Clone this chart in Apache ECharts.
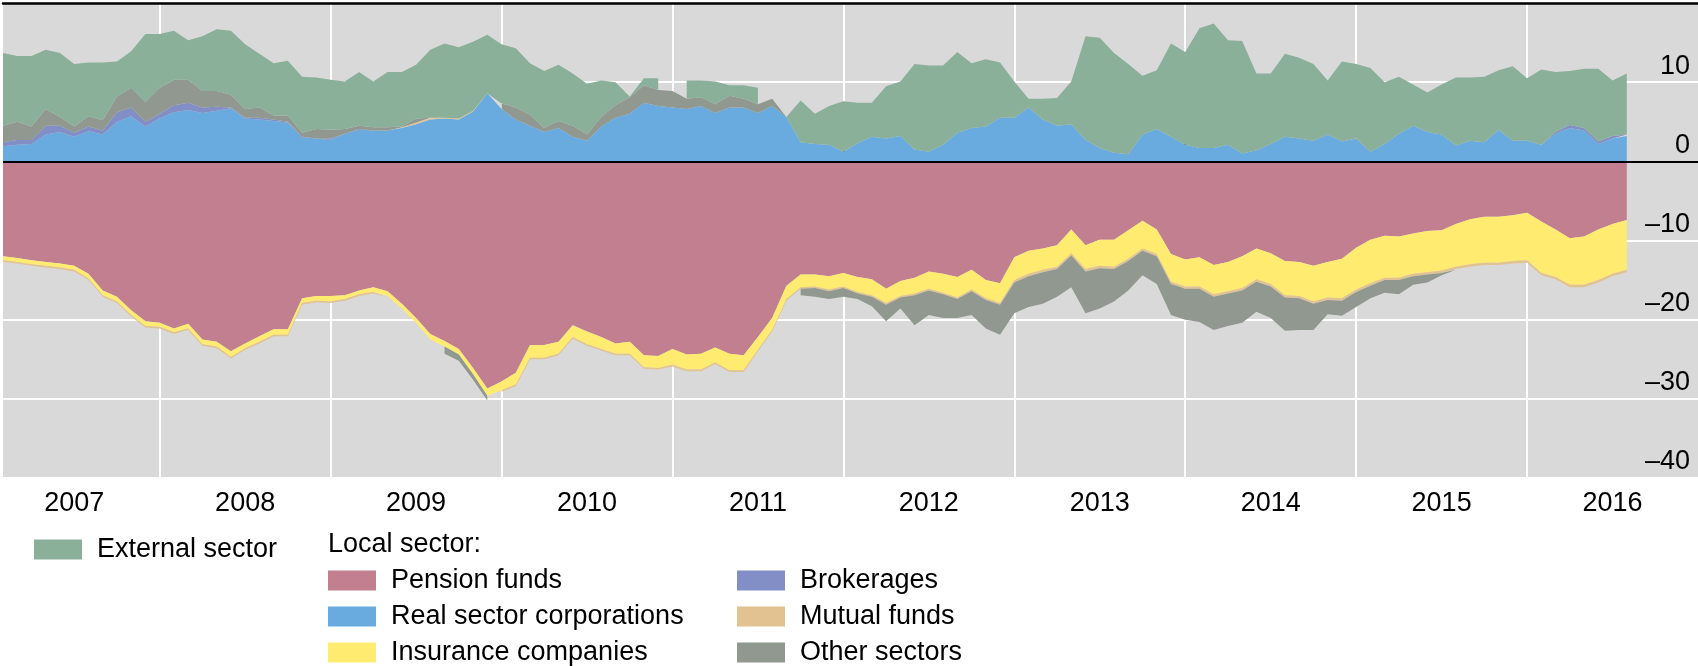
<!DOCTYPE html>
<html>
<head>
<meta charset="utf-8">
<script src="https://cdn.jsdelivr.net/npm/echarts@6/dist/echarts.min.js"></script>
<style>
  html, body { margin: 0; padding: 0; background: #fff; }
  #chart { width: 1698px; height: 666px; }
</style>
</head>
<body>
<div id="chart"></div>
<script>
// monthly axis, Jan 2007 .. Dec 2016 (data runs to Jul 2016)
const years = [2007, 2008, 2009, 2010, 2011, 2012, 2013, 2014, 2015, 2016];
const monthNames = ['Jan', 'Feb', 'Mar', 'Apr', 'May', 'Jun', 'Jul', 'Aug', 'Sep', 'Oct', 'Nov', 'Dec'];
const categories = [];
years.forEach(y => monthNames.forEach(m => categories.push(m + ' ' + y)));

const yTicks = [-40, -30, -20, -10, 0, 10, 20];

// values, % (one per month)
const realSector = [
  1.9, 2.1, 2.2, 3.4, 3.7, 3.1, 3.8, 3.4, 5.0, 5.7,
  4.4, 5.4, 6.2, 6.5, 6.1, 6.4, 6.7, 5.4, 5.3, 5.1,
  4.9, 3.0, 2.9, 2.7, 3.5, 4.0, 3.9, 3.9, 4.2, 4.7,
  5.3, 5.4, 5.3, 6.3, 8.6, 6.6, 5.3, 4.5, 3.7, 4.2,
  3.1, 2.6, 4.4, 5.5, 6.0, 7.4, 7.0, 6.8, 6.6, 7.0,
  6.1, 6.8, 6.8, 6.1, 7.0, 5.6, 2.4, 2.2, 2.1, 1.2,
  2.3, 3.1, 2.9, 3.2, 1.5, 1.2, 2.1, 3.6, 4.2, 4.4,
  5.5, 5.5, 6.8, 5.3, 4.5, 4.7, 2.7, 1.7, 1.1, 0.9,
  3.4, 4.1, 3.1, 2.1, 1.7, 1.7, 2.1, 1.0, 1.4, 2.2,
  3.1, 2.9, 2.6, 3.4, 2.5, 2.9, 1.2, 2.2, 3.5, 4.5,
  3.7, 3.4, 2.0, 2.6, 2.4, 4.0, 2.6, 2.6, 2.1, 3.5,
  4.2, 3.9, 2.2, 2.9, 3.2
];
const brokerages = [
  0.5, 0.6, 0.5, 1.1, 0.8, 0.5, 0.6, 0.5, 1.2, 1.1,
  0.6, 0.6, 0.9, 0.9, 0.7, 0.5, 0.1, 0.1, 0.2, 0.2,
  0.1, 0.1, 0.0, 0.2, 0.0, 0.1, 0.0, 0.0, 0.0, 0.0,
  0, 0, 0, 0, 0, 0, 0, 0, 0, 0,
  0, 0, 0, 0, 0, 0, 0, 0, 0, 0,
  0, 0, 0, 0, 0, 0, 0, 0, 0, 0,
  0, 0, 0, 0, 0, 0, 0, 0, 0, 0,
  0, 0, 0, 0, 0, 0, 0, 0, 0, 0,
  0, 0, 0, 0, 0, 0, 0, 0, 0, 0,
  0, 0, 0, 0, 0, 0, 0, 0, 0, 0,
  0, 0, 0, 0, 0, 0, 0, 0, 0, 0.2,
  0.4, 0.3, 0.3, 0.3, 0.2
];
const mutualFunds = [
  -0.2, -0.2, -0.2, -0.2, -0.2, -0.2, -0.2, -0.2, -0.2, -0.2,
  -0.2, -0.2, -0.2, -0.2, -0.2, -0.2, -0.2, -0.2, -0.2, -0.2,
  -0.2, -0.2, -0.2, -0.2, -0.2, -0.2, -0.2, -0.2, 0.1, 0.2,
  0.1, 0.1, 0.1, 0.1, 0.0, -0.2, -0.2, -0.2, -0.2, -0.2,
  -0.2, -0.2, -0.2, -0.2, -0.2, -0.2, -0.2, -0.2, -0.2, -0.2,
  -0.2, -0.2, -0.2, -0.2, -0.2, -0.2, -0.2, -0.2, -0.2, -0.2,
  -0.2, -0.2, -0.2, -0.2, -0.2, -0.2, -0.2, -0.2, -0.2, -0.2,
  -0.2, -0.3, -0.3, -0.3, -0.3, -0.3, -0.3, -0.3, -0.3, -0.3,
  -0.3, -0.3, -0.3, -0.3, -0.3, -0.3, -0.3, -0.3, -0.3, -0.3,
  -0.3, -0.3, -0.3, -0.3, -0.3, -0.3, -0.3, -0.3, -0.3, -0.3,
  -0.3, -0.3, -0.3, -0.3, -0.3, -0.3, -0.3, -0.3, -0.3, -0.3,
  -0.3, -0.3, -0.3, -0.3, -0.3
];
const otherSectors = [
  2.1, 2.3, 1.7, 2.1, 1.1, 0.8, 1.3, 1.3, 2.0, 2.5,
  2.5, 3.3, 3.2, 2.9, 2.1, 2.0, 1.6, 1.1, 1.3, 0.5,
  0.8, 0.5, 1.2, 1.1, 0.6, 0.4, 0.4, 0.4, 0.1, 0.5,
  0.1, -0.9, -0.8, -0.7, -0.6, 0.7, 1.5, 1.4, 0.5, 0.9,
  1.4, 0.8, 1.2, 1.6, 2.1, 2.2, 2.0, 2.1, 1.3, 1.1,
  1.1, 1.5, 1.1, 1.1, 0.9, 0.0, -0.8, -1.1, -1.0, -1.1,
  -0.7, -1.2, -2.1, -1.4, -3.8, -3.1, -3.0, -2.4, -3.0, -3.6,
  -3.8, -3.9, -3.9, -4.0, -3.5, -4.0, -5.3, -5.1, -4.1, -3.7,
  -3.1, -3.5, -3.9, -3.9, -4.2, -4.2, -4.1, -4.1, -3.8, -4.0,
  -4.2, -4.0, -3.3, -1.8, -1.9, -1.9, -1.6, -1.6, -1.8, -1.1,
  -1.0, -0.3, -0.1, 0, 0, 0, 0, 0, 0, 0,
  0, 0, 0, 0, 0
];
const externalSector = [
  9.2, 8.3, 8.9, 7.5, 8.1, 7.9, 6.8, 7.3, 4.4, 4.6,
  8.6, 6.8, 6.2, 5.0, 6.9, 7.8, 8.1, 8.2, 6.8, 6.6,
  6.9, 7.1, 6.5, 6.3, 6.0, 6.8, 5.8, 7.0, 6.9, 6.8,
  8.6, 9.4, 9.0, 8.7, 7.4, 7.5, 7.5, 6.5, 7.2, 7.1,
  6.6, 6.4, 4.6, 2.9, 0.1, 0.9, 1.5, -0.3, 2.3, 2.1,
  2.9, 1.3, 1.7, 2.1, -0.3, 0.0, 5.3, 3.8, 4.9, 6.4,
  5.1, 4.3, 6.6, 6.9, 10.8, 10.9, 10.0, 10.2, 8.2, 8.5,
  7.0, 4.6, 1.1, 2.6, 3.5, 5.4, 13.1, 13.9, 12.6, 11.4,
  7.4, 7.4, 11.8, 11.7, 15.1, 15.7, 13.2, 14.2, 9.7, 8.9,
  10.5, 10.2, 9.7, 6.8, 10.1, 9.4, 10.6, 7.8, 7.2, 5.2,
  5.0, 6.3, 8.6, 8.0, 8.3, 7.5, 9.4, 7.9, 9.5, 7.6,
  6.8, 7.5, 9.2, 7.0, 7.7
];
const pensionFunds = [
  -12.0, -12.2, -12.5, -12.7, -12.9, -13.2, -14.2, -16.3, -17.1, -18.8,
  -20.2, -20.4, -21.1, -20.5, -22.5, -22.8, -24.0, -23.0, -22.1, -21.2,
  -21.2, -17.3, -17.0, -17.0, -16.9, -16.3, -15.9, -16.4, -18.0, -19.8,
  -21.8, -22.7, -23.7, -26.1, -28.7, -27.8, -26.7, -23.2, -23.2, -22.8,
  -20.7, -21.5, -22.2, -23.0, -22.8, -24.5, -24.6, -23.7, -24.4, -24.3,
  -23.5, -24.3, -24.5, -22.2, -19.8, -15.7, -14.3, -14.3, -14.5, -14.1,
  -14.6, -14.9, -16.1, -15.1, -14.7, -13.9, -14.2, -14.6, -13.7, -15.0,
  -15.4, -12.1, -11.3, -11.0, -10.6, -8.6, -10.6, -9.9, -9.9, -8.7,
  -7.5, -8.6, -11.7, -12.4, -12.1, -13.1, -12.7, -12.0, -11.0, -11.6,
  -12.6, -12.7, -13.2, -12.7, -12.3, -10.9, -9.9, -9.4, -9.5, -9.1,
  -8.8, -8.7, -7.9, -7.3, -7.0, -7.0, -6.8, -6.5, -7.6, -8.6,
  -9.7, -9.5, -8.6, -7.9, -7.4
];
const insurance = [
  -0.5, -0.5, -0.5, -0.5, -0.5, -0.5, -0.6, -0.6, -0.6, -0.6,
  -0.6, -0.5, -0.5, -0.6, -0.6, -0.6, -0.7, -0.6, -0.7, -0.7,
  -0.7, -0.6, -0.6, -0.7, -0.5, -0.5, -0.6, -0.6, -0.6, -0.6,
  -0.7, -0.7, -0.7, -0.8, -0.9, -1.1, -1.5, -1.6, -1.6, -1.5,
  -1.5, -1.6, -1.5, -1.3, -1.5, -1.5, -1.5, -2.0, -1.9, -2.0,
  -1.9, -2.1, -1.9, -1.6, -1.5, -1.7, -1.6, -1.5, -1.7, -1.7,
  -1.9, -2.0, -1.8, -1.9, -2.0, -2.2, -2.4, -2.6, -2.5, -2.3,
  -2.5, -2.9, -2.9, -2.7, -2.7, -3.0, -3.0, -3.3, -3.4, -3.6,
  -3.5, -3.1, -3.5, -3.4, -3.7, -3.7, -3.7, -4.0, -3.9, -3.9,
  -4.3, -4.3, -4.5, -4.5, -5.0, -5.3, -5.5, -5.3, -5.2, -5.1,
  -5.2, -5.1, -5.4, -5.7, -5.8, -5.8, -5.8, -6.0, -6.5, -6.0,
  -5.9, -6.1, -6.4, -6.3, -6.3
];

const FONT = "'Liberation Sans', Arial, Helvetica, sans-serif";
const C = {
  external: '#8AB09A',
  pension: '#C27F8F',
  real: '#6AABDF',
  insurance: '#FFEB70',
  brokerages: '#828EC6',
  mutual: '#E2C290',
  other: '#909890'
};

// the original draws positive and negative parts as separate areas
const pos = arr => arr.map(v => (v >= 0 ? v : null));
const neg = arr => arr.map(v => (v < 0 ? v : null));

function area(name, data, stack, color) {
  return {
    name, type: 'line', stack, data,
    symbol: 'none', showSymbol: false, connectNulls: false,
    lineStyle: { width: 0 },
    itemStyle: { color },
    areaStyle: { color, opacity: 1 },
    emphasis: { disabled: true },
    silent: true
  };
}

const series = [
  area('Real sector corporations', pos(realSector), 'pos', C.real),
  area('Brokerages', pos(brokerages), 'pos', C.brokerages),
  area('Mutual funds', pos(mutualFunds), 'pos', C.mutual),
  area('Other sectors', pos(otherSectors), 'pos', C.other),
  area('External sector', pos(externalSector), 'pos', C.external),
  area('Pension funds', pensionFunds, 'neg', C.pension),
  area('Insurance companies', insurance, 'neg', C.insurance),
  area('Mutual funds', neg(mutualFunds), 'neg', C.mutual),
  area('Brokerages', neg(brokerages), 'neg', C.brokerages),
  area('Other sectors', neg(otherSectors), 'neg', C.other),
  area('External sector', neg(externalSector), 'neg', C.external)
];
// zero line
series[series.length - 1].markLine = {
  silent: true, symbol: 'none', animation: false, z: 10,
  label: { show: false },
  lineStyle: { color: '#000', width: 2, type: 'solid' },
  data: [{ yAxis: 0 }]
};

const yearEnd = i => i % 12 === 11 && i < categories.length - 1;

// one legend block per entry so the rows sit exactly where the original has them
const legendRows = [
  ['External sector', 34, 536],
  ['Pension funds', 328, 567],
  ['Real sector corporations', 328, 603],
  ['Insurance companies', 328, 639],
  ['Brokerages', 737, 567],
  ['Mutual funds', 737, 603],
  ['Other sectors', 737, 639]
];
const legend = legendRows.map(([name, left, top]) => ({
  data: [name], left, top,
  icon: 'rect', itemWidth: 48, itemHeight: 20, padding: 0,
  selectedMode: false,
  itemStyle: { borderWidth: 0 },
  textStyle: { fontFamily: FONT, fontSize: 27, color: '#000', padding: [0, 0, 0, 10] }
}));

const chart = echarts.init(document.getElementById('chart'), null, { renderer: 'canvas' });
chart.setOption({
  animation: false,
  backgroundColor: '#fff',
  grid: { left: 3, right: 0, top: 3, bottom: 188, show: true, backgroundColor: '#D9D9D9', borderWidth: 0 },
  xAxis: [{
    type: 'category', data: categories, boundaryGap: false, position: 'bottom',
    axisLine: { show: false },
    axisTick: { show: true, inside: true, length: 20, interval: yearEnd, lineStyle: { color: '#000', width: 1.5 } },
    axisLabel: {
      interval: i => i % 12 === 5, formatter: v => v.slice(-4),
      fontFamily: FONT, fontSize: 27, color: '#000', lineHeight: 27, margin: 12
    },
    splitLine: { show: true, interval: yearEnd, lineStyle: { color: '#fff', width: 2 } }
  }, {
    type: 'category', data: categories, boundaryGap: false, position: 'top',
    axisLine: { show: true, lineStyle: { color: '#000', width: 2.5 } },
    axisTick: { show: false }, axisLabel: { show: false }, splitLine: { show: false }
  }],
  yAxis: {
    type: 'value', position: 'right', min: yTicks[0], max: yTicks[yTicks.length - 1], interval: 10,
    axisLine: { show: false }, axisTick: { show: false },
    splitLine: { show: true, lineStyle: { color: '#fff', width: 2 } },
    axisLabel: {
      inside: true, margin: 8, showMaxLabel: false,
      fontFamily: FONT, fontSize: 27, color: '#000', verticalAlign: 'bottom', lineHeight: 32,
      formatter: v => String(v).replace('-', '\u2013')
    }
  },
  legend,
  graphic: [{
    type: 'text', left: 328, top: 531,
    style: { text: 'Local sector:', fontFamily: FONT, fontSize: 27, fill: '#000' }
  }],
  series
});
</script>
</body>
</html>
